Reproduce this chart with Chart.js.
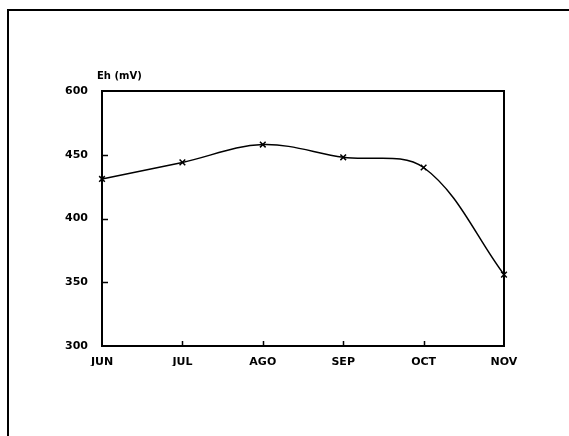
<!DOCTYPE html>
<html>
<head>
<meta charset="utf-8">
<script src="https://cdn.jsdelivr.net/npm/chart.js@4/dist/chart.umd.min.js"></script>
<style>
  html, body { margin: 0; padding: 0; background: #fff; }
  #wrap { position: relative; width: 569px; height: 436px; overflow: hidden; }
  #frame { position: absolute; left: 7px; top: 9px; width: 600px; height: 500px;
           border-left: 2px solid #000; border-top: 2px solid #000; }
  canvas { position: absolute; left: 0; top: 0; }
</style>
</head>
<body>
<div id="wrap">
  <div id="frame"></div>
  <canvas id="chart" width="569" height="436"></canvas>
</div>
<script>
// data
const months = ['JUN', 'JUL', 'AGO', 'SEP', 'OCT', 'NOV'];
const ehValues = [431, 444, 458, 448, 440, 356];
const yTickValues = [300, 350, 400, 450, 500];
const yTickLabels = ['300', '350', '400', '450', '600'];
const yTitle = 'Eh (mV)';

const labelFont = { family: 'DejaVu Sans', weight: 'bold', size: 11 };

// box around plot area, inward ticks and axis title
const framePlugin = {
    id: 'framePlugin',
    afterDraw(chart) {
        const ctx = chart.ctx;
        const a = chart.chartArea;
        const xs = chart.scales.x;
        const ys = chart.scales.y;
        ctx.save();
        ctx.strokeStyle = '#000';
        ctx.lineWidth = 2;
        ctx.strokeRect(a.left, a.top, a.right - a.left, a.bottom - a.top);
        ctx.lineWidth = 1.5;
        ctx.beginPath();
        for (let i = 1; i < months.length - 1; i++) {
            const px = Math.round(xs.getPixelForValue(i)) + 0.5;
            ctx.moveTo(px, a.bottom);
            ctx.lineTo(px, a.bottom - 5);
        }
        for (let i = 1; i < yTickValues.length - 1; i++) {
            const py = Math.round(ys.getPixelForValue(yTickValues[i])) + 0.5;
            ctx.moveTo(a.left, py);
            ctx.lineTo(a.left + 6, py);
        }
        ctx.stroke();
        ctx.fillStyle = '#000';
        ctx.font = 'bold 10px "DejaVu Sans"';
        ctx.textAlign = 'left';
        ctx.textBaseline = 'middle';
        ctx.fillText(yTitle, a.left - 5, 76);
        ctx.restore();
    }
};

const ctx = document.getElementById('chart').getContext('2d');
new Chart(ctx, {
    type: 'line',
    data: {
        labels: months,
        datasets: [{
            data: ehValues,
            borderColor: '#000',
            borderWidth: 1.5,
            tension: 0.35,
            fill: false,
            pointStyle: 'crossRot',
            pointRadius: 4,
            pointBorderWidth: 1.5,
            pointBorderColor: '#000',
            pointBackgroundColor: '#000'
        }]
    },
    options: {
        responsive: false,
        animation: false,
        layout: { padding: { left: 52, right: 65, top: 91, bottom: 70 } },
        plugins: {
            legend: { display: false },
            tooltip: { enabled: false }
        },
        scales: {
            x: {
                offset: false,
                border: { display: false },
                grid: { display: false },
                ticks: { color: '#000', font: labelFont, padding: 2, maxRotation: 0 },
                afterFit(scale) { scale.height = 20; }
            },
            y: {
                min: 300,
                max: 500,
                border: { display: false },
                grid: { display: false },
                afterBuildTicks(scale) {
                    scale.ticks = yTickValues.map(v => ({ value: v }));
                },
                ticks: {
                    color: '#000',
                    font: labelFont,
                    padding: 6,
                    callback: (v) => yTickLabels[yTickValues.indexOf(v)]
                },
                afterFit(scale) { scale.width = 50; }
            }
        }
    },
    plugins: [framePlugin]
});
</script>
</body>
</html>
